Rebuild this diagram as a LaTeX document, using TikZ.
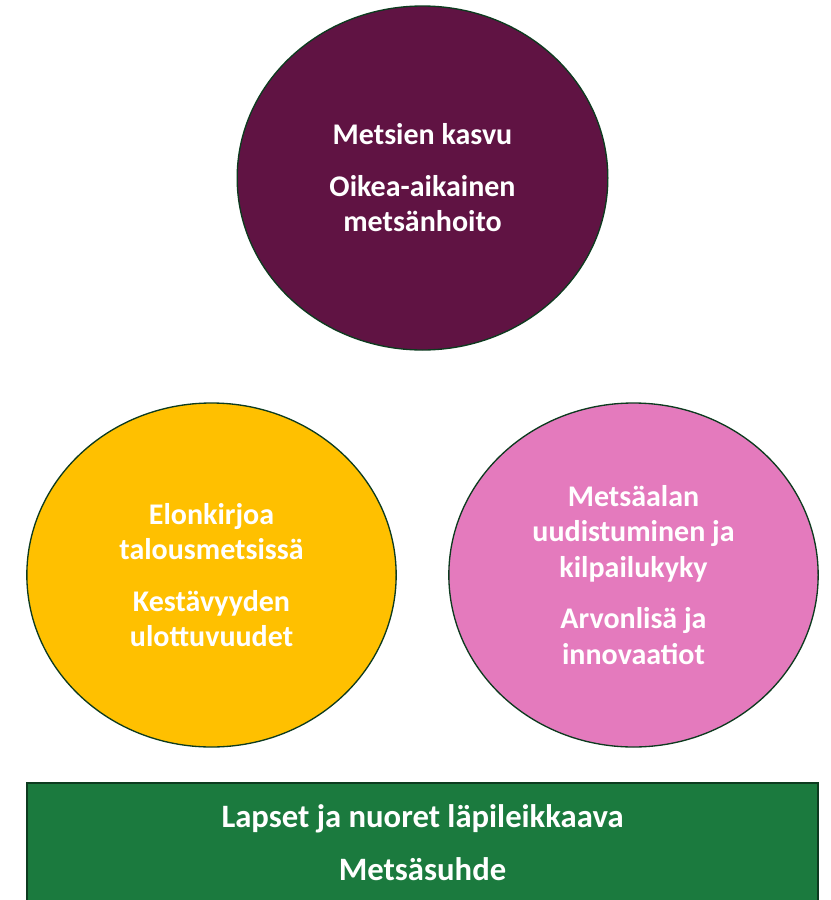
\documentclass[tikz,border=0pt]{standalone}
\usepackage{fontspec}
\setmainfont{Carlito}
\usetikzlibrary{shapes.geometric}

\definecolor{plum}{HTML}{601343}
\definecolor{amber}{HTML}{FFC000}
\definecolor{orchid}{HTML}{E47ABD}
\definecolor{forest}{HTML}{1B7A3E}
\definecolor{rim}{HTML}{0D3B1F}

\tikzset{
  topic/.style={ellipse, draw=rim, line width=1pt, text=white, align=center,
    font=\fontsize{22.5}{26.6}\selectfont\bfseries, inner sep=0pt},
  band/.style={rectangle, draw=rim, line width=1.5pt, fill=forest, text=white, align=center,
    font=\fontsize{24.5}{29}\selectfont\bfseries, inner sep=0pt}
}

\begin{document}
\begin{tikzpicture}[x=0.75pt,y=-0.75pt]

  \useasboundingbox (0,0) rectangle (831,900);

  % Define nodes
  \node[topic, fill=plum, minimum width=278pt, minimum height=258pt]
    (kasvu) at (422.5,178) {Metsien kasvu\\[12pt]Oikea-aikainen\\metsänhoito};
  \node[topic, fill=amber, minimum width=277pt, minimum height=258pt]
    (elonkirjo) at (211.5,575) {Elonkirjoa\\talousmetsissä\\[12pt]Kestävyyden\\ulottuvuudet};
  \node[topic, fill=orchid, minimum width=277pt, minimum height=258pt]
    (uudistus) at (633.5,575) {Metsäalan\\uudistuminen ja\\kilpailukyky\\[12pt]Arvonlisä ja\\innovaatiot};

  % Bottom band
  \node[band, minimum width=593pt, minimum height=90pt]
    (metsasuhde) at (422.5,842.5) {Lapset ja nuoret läpileikkaava\\[11pt]Metsäsuhde};

\end{tikzpicture}
\end{document}
